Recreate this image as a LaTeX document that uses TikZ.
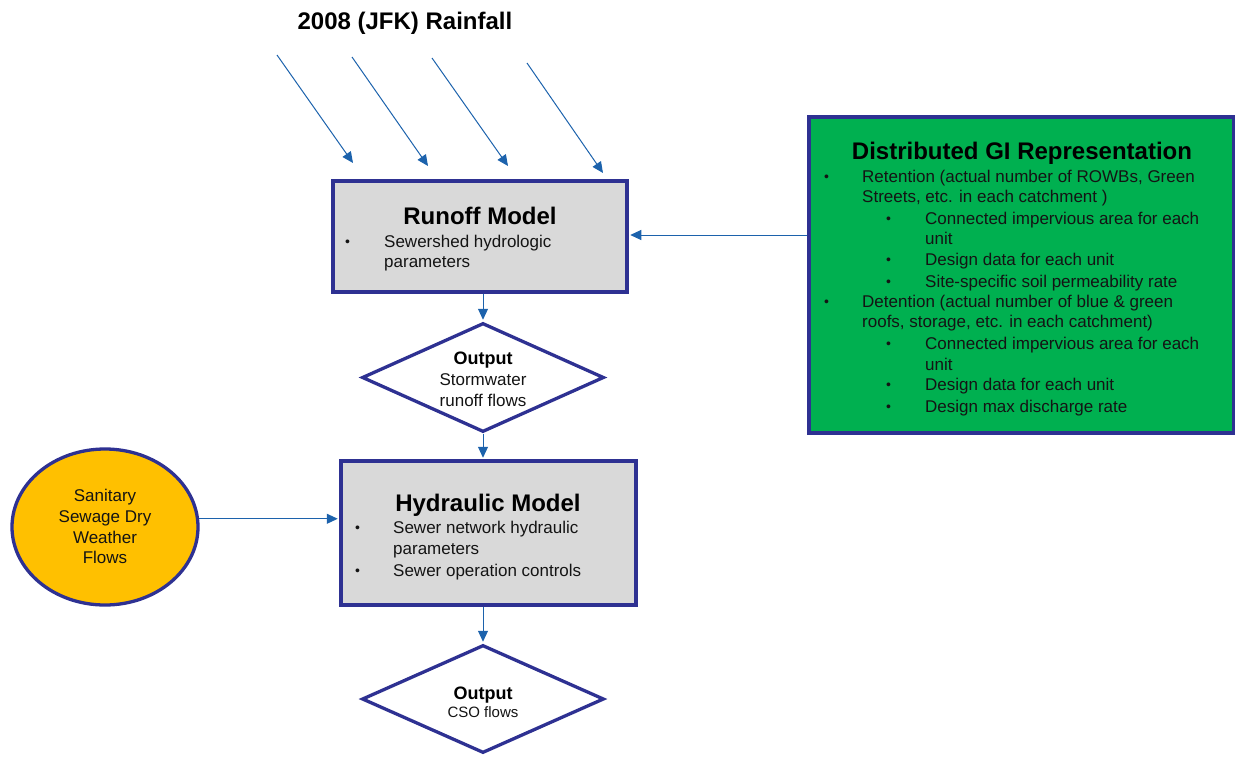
\documentclass[tikz,border=0pt]{standalone}
\usepackage{fontspec}
\setmainfont{Liberation Sans}
\usetikzlibrary{shapes.geometric,arrows.meta}
\definecolor{navy}{RGB}{46,49,146}
\definecolor{arrowblue}{RGB}{28,98,172}
\definecolor{boxgray}{RGB}{217,217,217}
\definecolor{gigreen}{RGB}{0,176,80}
\definecolor{sanyellow}{RGB}{255,192,0}
\definecolor{txt}{RGB}{20,20,20}
\tikzset{
  conn/.style={draw=arrowblue,line width=1pt,-{Triangle[length=11pt,width=10pt]},shorten >=1.6pt},
  modelbox/.style={draw=navy,line width=3.3pt,fill=boxgray,rectangle,inner sep=0pt},
  gibox/.style={draw=navy,line width=3.3pt,fill=gigreen,rectangle,inner sep=0pt},
  outd/.style={draw=navy,line width=3.3pt,fill=white,diamond,inner sep=0pt},
  sanell/.style={draw=navy,line width=3.3pt,fill=sanyellow,ellipse,inner sep=0pt},
  ln/.style={anchor=base west,inner sep=0pt,text=txt,font=\fontsize{17}{20}\selectfont},
  bul/.style={anchor=base west,inner sep=0pt,text=txt,font=\fontsize{14}{16}\selectfont,yshift=1pt},
  cln/.style={anchor=base,inner sep=0pt,text=txt,font=\fontsize{17}{20}\selectfont},
  bigtitle/.style={anchor=base,inner sep=0pt,font=\fontsize{24}{28}\selectfont\bfseries},
  outtitle/.style={anchor=base,inner sep=0pt,font=\fontsize{18}{21}\selectfont\bfseries},
}
\begin{document}
\begin{tikzpicture}[x=1pt,y=-1pt]
\useasboundingbox (0,0) rectangle (1235,758);

% title
\node[bigtitle] (rtitle) at (405,29) {2008 (JFK) Rainfall};

% main nodes
\node[modelbox,minimum width=294pt,minimum height=111pt] (runoff) at (480,236.5) {};
\node[modelbox,minimum width=295pt,minimum height=144pt] (hyd) at (488.5,533) {};
\node[gibox,minimum width=425pt,minimum height=316pt] (gi) at (1021.5,275) {};
\node[sanell,minimum width=186pt,minimum height=156pt] (san) at (105,527) {};
\node[outd,minimum width=242pt,minimum height=109pt] (out1) at (483,377.5) {};
\node[outd,minimum width=242pt,minimum height=108pt] (out2) at (483,699) {};

% rain arrows
\coordinate (ra1) at (277,55);  \coordinate (rb1) at (353,163);
\coordinate (ra2) at (352,57);  \coordinate (rb2) at (428,166);
\coordinate (ra3) at (432,58);  \coordinate (rb3) at (508,166);
\coordinate (ra4) at (527,63);  \coordinate (rb4) at (603,173);
\draw[conn,shorten >=0pt] (ra1) -- (rb1);
\draw[conn,shorten >=0pt] (ra2) -- (rb2);
\draw[conn,shorten >=0pt] (ra3) -- (rb3);
\draw[conn,shorten >=0pt] (ra4) -- (rb4);

% connectors
\draw[conn] (gi.west |- 0,235) -- (runoff.east |- 0,235);
\draw[conn] (out1.north |- runoff.south) -- (out1.north);
\draw[conn] (out1.south) -- (out1.south |- hyd.north);
\draw[conn] (san.5.6) -- (san.5.6 -| hyd.west);
\draw[conn] (out2.north |- hyd.south) -- (out2.north);

% runoff text
\node[bigtitle] (runofft) at (480,224) {Runoff Model};
\node[bul] (rb) at (345,247) {•};
\node[ln] (rl1) at (384,247) {Sewershed hydrologic};
\node[ln] (rl2) at (384,267) {parameters};

% output 1 text
\node[outtitle] (o1t) at (483,364) {Output};
\node[cln] (o1a) at (483,385) {Stormwater};
\node[cln] (o1b) at (483,406) {runoff flows};

% hydraulic text
\node[bigtitle] (hydt) at (488,511) {Hydraulic Model};
\node[bul] (hb1) at (355,533) {•};
\node[ln] (hl1) at (393,533) {Sewer network hydraulic};
\node[ln] (hl2) at (393,554) {parameters};
\node[bul] (hb2) at (355,576) {•};
\node[ln] (hl3) at (393,576) {Sewer operation controls};

% sanitary text
\node[cln] (s1) at (105,501) {Sanitary};
\node[cln] (s2) at (105,522) {Sewage Dry};
\node[cln] (s3) at (105,543) {Weather};
\node[cln] (s4) at (105,563) {Flows};

% output 2 text
\node[outtitle] (o2t) at (483,699) {Output};
\node[cln,font=\fontsize{15}{18}\selectfont] (o2a) at (483,717) {CSO flows};

% GI text
\node[bigtitle] (git) at (1022,159) {Distributed GI Representation};
\node[bul] (gb1) at (824,182) {•};
\node[ln] (g1) at (862,182) {Retention (actual number of ROWBs, Green};
\node[ln] (g2) at (862,202) {Streets, etc. in each catchment )};
\node[bul] (gb2) at (886,224) {•};
\node[ln] (g3) at (925,224) {Connected impervious area for each};
\node[ln] (g4) at (925,244) {unit};
\node[bul] (gb3) at (886,265) {•};
\node[ln] (g5) at (925,265) {Design data for each unit};
\node[bul] (gb4) at (886,287) {•};
\node[ln] (g6) at (925,287) {Site-specific soil permeability rate};
\node[bul] (gb5) at (824,307) {•};
\node[ln] (g7) at (862,307) {Detention (actual number of blue \& green};
\node[ln] (g8) at (862,327) {roofs, storage, etc. in each catchment)};
\node[bul] (gb6) at (886,349) {•};
\node[ln] (g9) at (925,349) {Connected impervious area for each};
\node[ln] (g10) at (925,370) {unit};
\node[bul] (gb7) at (886,390) {•};
\node[ln] (g11) at (925,390) {Design data for each unit};
\node[bul] (gb8) at (886,412) {•};
\node[ln] (g12) at (925,412) {Design max discharge rate};
\end{tikzpicture}
\end{document}
